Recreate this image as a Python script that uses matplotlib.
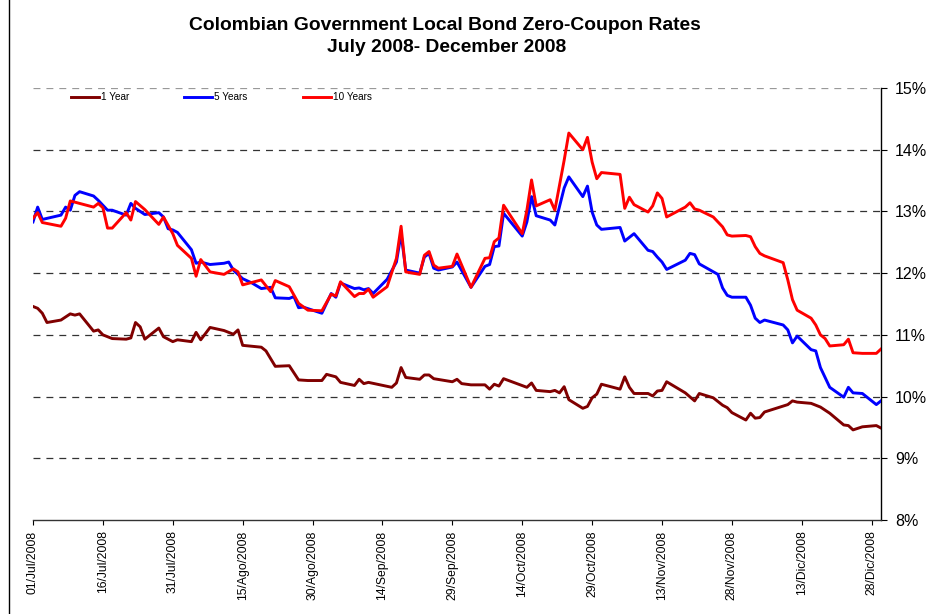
import numpy as np
import matplotlib
matplotlib.use('Agg')
import matplotlib.pyplot as plt
from matplotlib.lines import Line2D

plt.rcParams['font.family'] = ['Liberation Sans', 'DejaVu Sans']
plt.rcParams['lines.scale_dashes'] = False

# 1 Year
yr1_dates = ['07-01','07-02','07-03','07-04','07-07','07-09','07-10','07-11','07-14','07-15',
             '07-16','07-18','07-21','07-22','07-23','07-24','07-25','07-28','07-29','07-31',
             '08-01','08-04','08-05','08-06','08-08','08-11','08-13','08-14','08-15','08-19',
             '08-20','08-22','08-25','08-27','08-29','09-01','09-02','09-04','09-05','09-08',
             '09-09','09-10','09-11','09-16','09-17','09-18','09-19','09-22','09-23','09-24',
             '09-25','09-29','09-30','10-01','10-03','10-06','10-07','10-08','10-09','10-10',
             '10-15','10-16','10-17','10-20','10-21','10-22','10-23','10-24','10-27','10-28',
             '10-29','10-30','10-31','11-04','11-05','11-06','11-07','11-10','11-11','11-12',
             '11-13','11-14','11-18','11-20','11-21','11-24','11-26','11-27','11-28','11-30',
             '12-01','12-02','12-03','12-04','12-05','12-10','12-11','12-12','12-15','12-17',
             '12-19','12-22','12-23','12-24','12-26','12-29','12-30']
yr1 = [11.46, 11.43, 11.35, 11.20, 11.24, 11.34, 11.32, 11.34, 11.06, 11.08,
       11.00, 10.94, 10.93, 10.95, 11.20, 11.13, 10.93, 11.11, 10.97, 10.89,
       10.92, 10.89, 11.04, 10.92, 11.12, 11.07, 11.01, 11.08, 10.83, 10.80,
       10.74, 10.49, 10.50, 10.27, 10.26, 10.26, 10.36, 10.32, 10.23, 10.18,
       10.28, 10.21, 10.23, 10.15, 10.22, 10.47, 10.31, 10.28, 10.35, 10.35,
       10.29, 10.24, 10.28, 10.21, 10.19, 10.19, 10.12, 10.20, 10.17, 10.29,
       10.15, 10.22, 10.10, 10.08, 10.10, 10.06, 10.16, 9.95, 9.81, 9.84,
       9.98, 10.04, 10.20, 10.12, 10.32, 10.15, 10.05, 10.05, 10.01, 10.09,
       10.10, 10.24, 10.06, 9.93, 10.05, 9.98, 9.86, 9.82, 9.74, 9.66,
       9.62, 9.73, 9.65, 9.66, 9.75, 9.87, 9.93, 9.91, 9.89, 9.83,
       9.73, 9.54, 9.53, 9.46, 9.51, 9.53, 9.49]

# 5 Years
yr5_dates = ['07-01','07-02','07-03','07-07','07-08','07-09','07-10','07-11','07-14','07-15',
             '07-17','07-18','07-21','07-22','07-23','07-25','07-28','07-29','07-30','07-31',
             '08-01','08-04','08-05','08-06','08-08','08-11','08-12','08-13','08-15','08-17',
             '08-19','08-21','08-22','08-25','08-26','08-27','08-28','09-01','09-03','09-04',
             '09-05','09-08','09-09','09-10','09-11','09-12','09-15','09-17','09-18','09-19',
             '09-22','09-23','09-24','09-25','09-26','09-29','09-30','10-03','10-06','10-07',
             '10-08','10-09','10-10','10-14','10-15','10-16','10-17','10-20','10-21','10-23',
             '10-24','10-27','10-28','10-29','10-30','10-31','11-04','11-05','11-07','11-10',
             '11-11','11-12','11-13','11-14','11-18','11-19','11-20','11-21','11-25','11-26',
             '11-27','11-28','12-01','12-02','12-03','12-04','12-05','12-09','12-10','12-11',
             '12-12','12-15','12-16','12-17','12-19','12-22','12-23','12-24','12-26','12-29',
             '12-30']
yr5 = [12.83, 13.07, 12.87, 12.94, 13.07, 13.02, 13.26, 13.32, 13.25, 13.18,
       13.02, 13.02, 12.94, 13.13, 13.05, 12.95, 12.98, 12.91, 12.72, 12.70,
       12.66, 12.38, 12.16, 12.18, 12.14, 12.16, 12.18, 12.05, 11.91, 11.84,
       11.75, 11.77, 11.60, 11.59, 11.62, 11.44, 11.45, 11.35, 11.67, 11.61,
       11.84, 11.75, 11.76, 11.73, 11.75, 11.67, 11.90, 12.18, 12.64, 12.05,
       12.00, 12.26, 12.32, 12.08, 12.05, 12.10, 12.18, 11.77, 12.11, 12.14,
       12.43, 12.44, 12.97, 12.60, 12.83, 13.24, 12.93, 12.86, 12.78, 13.38,
       13.56, 13.24, 13.41, 12.99, 12.78, 12.71, 12.74, 12.52, 12.64, 12.37,
       12.35, 12.26, 12.18, 12.06, 12.21, 12.32, 12.30, 12.15, 11.98, 11.76,
       11.64, 11.61, 11.61, 11.48, 11.27, 11.20, 11.24, 11.16, 11.08, 10.87,
       10.98, 10.76, 10.74, 10.47, 10.15, 9.99, 10.15, 10.06, 10.05, 9.87,
       9.93]

# 10 Years
yr10_dates = ['07-01','07-02','07-03','07-07','07-08','07-09','07-14','07-15','07-16','07-17',
              '07-18','07-21','07-22','07-23','07-25','07-28','07-29','07-31','08-01','08-04',
              '08-05','08-06','08-08','08-11','08-13','08-14','08-15','08-19','08-21','08-22',
              '08-25','08-27','08-29','09-01','09-03','09-04','09-05','09-08','09-09','09-10',
              '09-11','09-12','09-15','09-17','09-18','09-19','09-22','09-23','09-24','09-25',
              '09-26','09-29','09-30','10-03','10-06','10-07','10-08','10-09','10-10','10-14',
              '10-15','10-16','10-17','10-20','10-21','10-23','10-24','10-27','10-28','10-29',
              '10-30','10-31','11-04','11-05','11-06','11-07','11-10','11-11','11-12','11-13',
              '11-14','11-18','11-19','11-20','11-21','11-24','11-26','11-27','11-28','12-01',
              '12-02','12-03','12-04','12-05','12-09','12-10','12-11','12-12','12-15','12-16',
              '12-17','12-18','12-19','12-22','12-23','12-24','12-26','12-29','12-30']
yr10 = [12.89, 12.98, 12.82, 12.76, 12.89, 13.17, 13.07, 13.13, 13.06, 12.73,
        12.73, 12.98, 12.86, 13.16, 13.03, 12.79, 12.91, 12.64, 12.45, 12.24,
        11.95, 12.22, 12.02, 11.98, 12.07, 12.02, 11.81, 11.89, 11.70, 11.88,
        11.78, 11.51, 11.40, 11.39, 11.66, 11.63, 11.86, 11.62, 11.67, 11.67,
        11.74, 11.61, 11.78, 12.24, 12.76, 12.02, 11.98, 12.29, 12.35, 12.13,
        12.08, 12.11, 12.31, 11.77, 12.24, 12.25, 12.51, 12.57, 13.10, 12.64,
        13.02, 13.51, 13.09, 13.19, 13.02, 13.83, 14.27, 14.00, 14.20, 13.80,
        13.53, 13.63, 13.60, 13.05, 13.23, 13.11, 12.99, 13.09, 13.30, 13.21,
        12.91, 13.07, 13.14, 13.04, 13.02, 12.91, 12.75, 12.62, 12.60, 12.61,
        12.59, 12.43, 12.32, 12.28, 12.17, 11.89, 11.57, 11.40, 11.27, 11.16,
        11.00, 10.94, 10.82, 10.84, 10.93, 10.71, 10.70, 10.70, 10.77]

tick_dates = ['07-01','07-16','07-31','08-15','08-30','09-14','09-29',
              '10-14','10-29','11-13','11-28','12-13','12-28']
tick_labels = ['01/Jul/2008','16/Jul/2008','31/Jul/2008','15/Ago/2008','30/Ago/2008',
               '14/Sep/2008','29/Sep/2008','14/Oct/2008','29/Oct/2008','13/Nov/2008',
               '28/Nov/2008','13/Dic/2008','28/Dic/2008']
y_ticks = [8, 9, 10, 11, 12, 13, 14, 15]


def to_dates(md):
    return np.array(['2008-' + d for d in md], dtype='datetime64[D]')


fig = plt.figure(figsize=(9.43, 6.14), dpi=100)
ax = fig.add_axes([33/943, 94/614, 848/943, 432/614])

for v in y_ticks[1:]:
    c = '#999999' if v == 15 else '#333333'
    ax.axhline(v, color=c, lw=0.9, dashes=(5, 4.3), zorder=1)

ax.plot(to_dates(yr1_dates), yr1, color='#800000', lw=2.1, label='1 Year', zorder=3)
ax.plot(to_dates(yr5_dates), yr5, color='#0000FF', lw=2.1, label='5 Years', zorder=3)
ax.plot(to_dates(yr10_dates), yr10, color='#FF0000', lw=2.1, label='10 Years', zorder=4)

ax.set_xlim(np.datetime64('2008-07-01'), np.datetime64('2008-12-30'))
ax.set_ylim(8, 15)

ax.set_xticks(to_dates(tick_dates))
ax.set_xticklabels(tick_labels, rotation=90, fontsize=8.7)
ax.tick_params(axis='x', length=3.5, width=0.8, pad=4)

ax.yaxis.tick_right()
ax.set_yticks(y_ticks)
ax.set_yticklabels(['%d%%' % v for v in y_ticks], fontsize=11.5)
ax.tick_params(axis='y', length=4, width=0.8, pad=6)

ax.spines['left'].set_visible(False)
ax.spines['top'].set_visible(False)
ax.spines['right'].set_linewidth(1)
ax.spines['bottom'].set_linewidth(1)
ax.spines['bottom'].set_color('#333333')

ax.legend(loc='upper left', bbox_to_anchor=(0.045, 0.99), ncol=3, frameon=False,
          fontsize=7.2, handlelength=2.8, handletextpad=0.2, columnspacing=5.5,
          borderpad=0, borderaxespad=0)

fig.text(0.472, 0.958, 'Colombian Government Local Bond Zero-Coupon Rates',
         ha='center', va='center', fontsize=13.9, fontweight='bold')
fig.text(0.474, 0.922, 'July 2008- December 2008',
         ha='center', va='center', fontsize=13.9, fontweight='bold')

fig.add_artist(Line2D([9/943, 9/943], [0, 1], transform=fig.transFigure,
                      color='black', lw=1))

plt.savefig('out.png', dpi=100)
